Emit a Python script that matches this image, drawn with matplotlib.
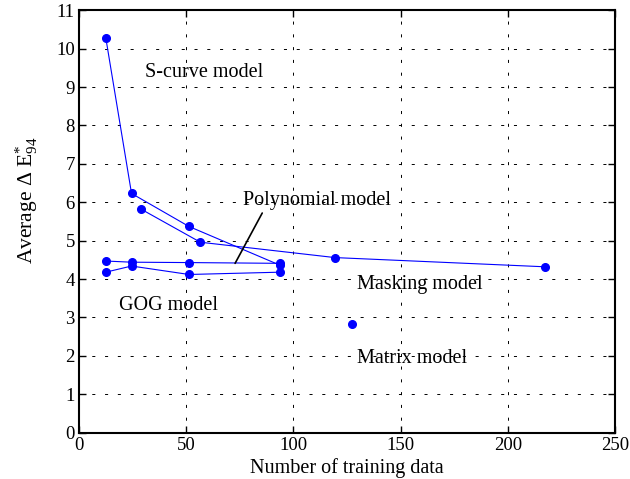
import matplotlib
matplotlib.use("Agg")
import matplotlib.pyplot as plt

plt.rcParams['font.family'] = ['Liberation Serif', 'DejaVu Serif']
plt.rcParams['mathtext.fontset'] = 'custom'
plt.rcParams['mathtext.rm'] = 'Liberation Serif'
plt.rcParams['mathtext.it'] = 'Liberation Serif:italic'
plt.rcParams['lines.scale_dashes'] = False

# Data
x_shared = [12.5, 24.5, 51.3, 93.8]
scurve_y = [10.28, 6.23, 5.37, 4.36]
poly_y = [4.47, 4.44, 4.43, 4.41]
gog_y = [4.18, 4.34, 4.12, 4.18]
masking_x = [29.0, 56.6, 119.4, 217.4]
masking_y = [5.82, 4.96, 4.56, 4.32]
matrix_x = [127.2]
matrix_y = [2.82]

xticks = [0, 50, 100, 150, 200, 250]
yticks = list(range(0, 12))

fig = plt.figure(figsize=(6.3, 4.79), dpi=100)
ax = fig.add_axes([0.1254, 0.0967, 0.8508, 0.8818])

blue = '#0000ff'
style = dict(color=blue, lw=0.8, marker='o', ms=5.5, mfc=blue, mec=blue)
ax.plot(x_shared, scurve_y, **style)
ax.plot(x_shared, poly_y, **style)
ax.plot(x_shared, gog_y, **style)
ax.plot(masking_x, masking_y, **style)
ax.plot(matrix_x, matrix_y, ls='none', marker='o', ms=5.5, mfc=blue, mec=blue)

ax.set_xlim(0, 250)
ax.set_ylim(0, 11)
ax.set_xticks(xticks)
ax.set_yticks(yticks)
ax.tick_params(direction='in', length=5, width=1, top=True, right=True,
               labelsize=13.5, pad=3)
for s in ax.spines.values():
    s.set_linewidth(1.5)
ax.grid(True, color='black', lw=0.7, linestyle=(0, (2.2, 7.0)))

ax.set_xlabel('Number of training data', fontsize=14.5, labelpad=3)
ax.set_ylabel(r'Average $\Delta$ E$^{*}_{94}$', fontsize=15.5)
ax.yaxis.set_label_coords(-0.072, 0.55)

fs = 14.5
ax.text(30.8, 9.37, 'S-curve model', fontsize=fs, va='center', ha='left')
ax.text(18.7, 3.31, 'GOG model', fontsize=fs, va='center', ha='left')
ax.text(129.8, 3.85, 'Masking model', fontsize=fs, va='center', ha='left')
ax.text(129.8, 1.94, 'Matrix model', fontsize=fs, va='center', ha='left')
ax.annotate('Polynomial model', xy=(72.8, 4.41), xytext=(76.5, 6.04),
            fontsize=fs, va='center', ha='left',
            arrowprops=dict(arrowstyle='-', color='black', lw=1.2,
                            shrinkA=0, shrinkB=0,
                            relpos=(0.14, 0.0)))

fig.savefig('out.png', dpi=100)
